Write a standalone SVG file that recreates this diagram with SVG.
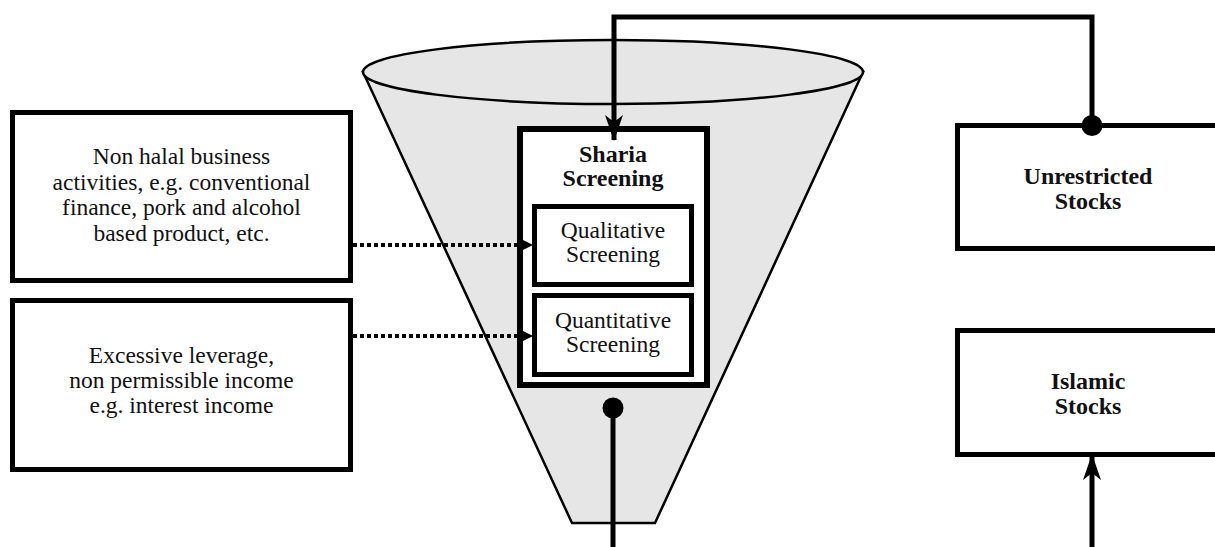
<svg xmlns="http://www.w3.org/2000/svg" width="1215" height="547" viewBox="0 0 1215 547">
  <style>
    .box { fill: #ffffff; stroke: #000000; stroke-width: 5; }
    .inner { fill: #ffffff; stroke: #000000; stroke-width: 5; }
    .outer { fill: #ffffff; stroke: #000000; stroke-width: 6; }
    .txt { font-family: "Liberation Serif", "Times New Roman", serif; font-size: 23.5px; fill: #111111; text-anchor: middle; }
    .bold { font-weight: bold; font-size: 24px; }
    .conn { fill: none; stroke: #000000; stroke-width: 5; }
    .dotted { fill: none; stroke: #000000; stroke-width: 4; stroke-dasharray: 4 3; }
    .funnel { fill: #e6e6e6; stroke: #000000; stroke-width: 2.5; }
  </style>
  <defs>
    <marker id="arrowBig" viewBox="0 0 26 18" refX="25" refY="9" markerWidth="26" markerHeight="18" markerUnits="userSpaceOnUse" orient="auto">
      <path d="M0,0 L26,9 L0,18 L7,9 z" fill="#000000"/>
    </marker>
    <marker id="arrowSmall" viewBox="0 0 16 16" refX="0" refY="8" markerWidth="16" markerHeight="16" markerUnits="userSpaceOnUse" orient="auto">
      <path d="M0,0 L16,8 L0,16 z" fill="#000000"/>
    </marker>
    <marker id="dot" viewBox="0 0 22 22" refX="11" refY="11" markerWidth="22" markerHeight="22" markerUnits="userSpaceOnUse" orient="auto">
      <circle cx="11" cy="11" r="10.5" fill="#000000"/>
    </marker>
  </defs>

  <g id="funnel">
    <polygon class="funnel" points="363,72 572,523 655,523 863,72"/>
    <ellipse class="funnel" cx="613" cy="72" rx="250" ry="32"/>
  </g>

  <g id="sharia-screening">
    <rect class="outer" x="520" y="129" width="187" height="256"/>
    <text class="txt bold" x="613" y="162">Sharia</text>
    <text class="txt bold" x="613" y="186">Screening</text>
  </g>

  <g id="qualitative-screening">
    <rect class="inner" x="534.5" y="206.5" width="157" height="78"/>
    <text class="txt" x="613" y="238">Qualitative</text>
    <text class="txt" x="613" y="262">Screening</text>
  </g>

  <g id="quantitative-screening">
    <rect class="inner" x="534.5" y="295.5" width="157" height="79"/>
    <text class="txt" x="613" y="328">Quantitative</text>
    <text class="txt" x="613" y="352">Screening</text>
  </g>

  <g id="non-halal">
    <rect class="box" x="12.5" y="112.5" width="338" height="168"/>
    <text class="txt" x="181.5" y="164">Non halal business</text>
    <text class="txt" x="181.5" y="190">activities, e.g. conventional</text>
    <text class="txt" x="181.5" y="215">finance, pork and alcohol</text>
    <text class="txt" x="181.5" y="241">based product, etc.</text>
  </g>

  <g id="excessive-leverage">
    <rect class="box" x="12.5" y="300.5" width="338" height="169"/>
    <text class="txt" x="181.5" y="363">Excessive leverage,</text>
    <text class="txt" x="181.5" y="388">non permissible income</text>
    <text class="txt" x="181.5" y="413">e.g. interest income</text>
  </g>

  <g id="unrestricted-stocks">
    <rect class="box" x="957.5" y="125.5" width="262" height="123"/>
    <text class="txt bold" x="1088" y="184">Unrestricted</text>
    <text class="txt bold" x="1088" y="209">Stocks</text>
  </g>

  <g id="islamic-stocks">
    <rect class="box" x="957.5" y="330.5" width="262" height="124"/>
    <text class="txt bold" x="1088" y="389">Islamic</text>
    <text class="txt bold" x="1088" y="414">Stocks</text>
  </g>

  <g id="connectors">
    <path class="dotted" d="M353,245 H517" marker-end="url(#arrowSmall)"/>
    <path class="dotted" d="M353,336 H517" marker-end="url(#arrowSmall)"/>
    <path class="conn" d="M1092,125.5 V17 H614 V140" marker-start="url(#dot)" marker-end="url(#arrowBig)"/>
    <path class="conn" d="M613,408 V547" marker-start="url(#dot)"/>
    <path class="conn" d="M1092,547 V455" marker-end="url(#arrowBig)"/>
  </g>
</svg>
